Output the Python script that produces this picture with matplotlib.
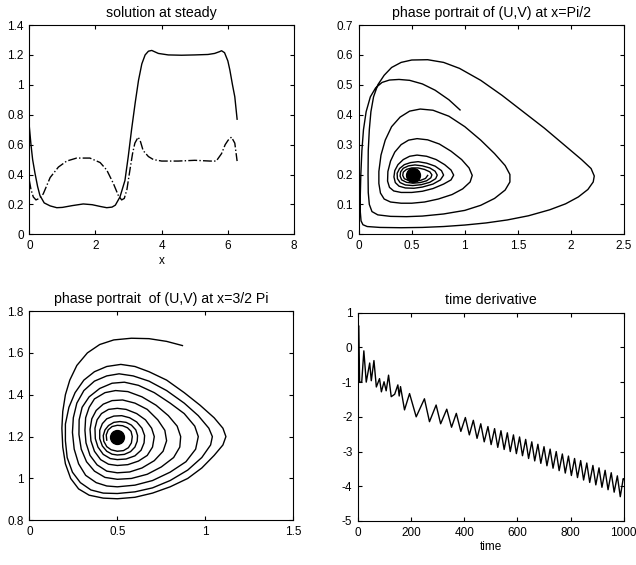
import matplotlib
matplotlib.use('Agg')
import matplotlib.pyplot as plt
from matplotlib.ticker import FormatStrFormatter

plt.rcParams['font.family'] = ['Liberation Sans', 'DejaVu Sans']
plt.rcParams['font.size'] = 8.5

# solution at steady
x_u = [0, 0.05, 0.1, 0.17, 0.25, 0.32, 0.45, 0.63, 0.83, 1.0, 1.3, 1.63, 1.9, 2.15, 2.34, 2.5, 2.6,
       2.74, 2.89, 2.99, 3.09, 3.2, 3.3, 3.4, 3.5, 3.6, 3.7, 3.9, 4.2, 4.6, 5.0, 5.4, 5.6, 5.75,
       5.81, 5.9, 6.0, 6.06, 6.14, 6.21, 6.28]
u_steady = [0.72, 0.6, 0.5, 0.41, 0.32, 0.26, 0.21, 0.19, 0.178, 0.18, 0.192, 0.203, 0.198, 0.186,
            0.178, 0.182, 0.195, 0.25, 0.36, 0.52, 0.7, 0.88, 1.03, 1.14, 1.2, 1.225, 1.23, 1.21,
            1.2, 1.198, 1.2, 1.203, 1.21, 1.222, 1.228, 1.215, 1.16, 1.1, 1.0, 0.92, 0.77]
x_v = [0, 0.05, 0.12, 0.2, 0.3, 0.42, 0.63, 0.88, 1.13, 1.43, 1.83, 2.14, 2.34, 2.54, 2.69, 2.79,
       2.87, 2.95, 3.04, 3.12, 3.19, 3.29, 3.36, 3.44, 3.6, 3.75, 4.0, 4.5, 5.0, 5.46, 5.65, 5.81,
       5.92, 6.01, 6.11, 6.21, 6.28]
v_steady = [0.36, 0.3, 0.25, 0.23, 0.24, 0.27, 0.38, 0.45, 0.49, 0.51, 0.51, 0.48, 0.43, 0.34, 0.26,
            0.23, 0.24, 0.3, 0.43, 0.54, 0.61, 0.65, 0.62, 0.56, 0.52, 0.5, 0.49, 0.49, 0.495, 0.49,
            0.49, 0.54, 0.6, 0.63, 0.65, 0.61, 0.49]

# phase portrait at x = pi/2
uv1 = [(0.955, 0.416), (0.85, 0.45), (0.72, 0.482), (0.6, 0.503), (0.48, 0.515), (0.38, 0.518),
       (0.29, 0.516), (0.22, 0.508), (0.16, 0.49), (0.11, 0.46), (0.07, 0.41), (0.045, 0.35),
       (0.03, 0.28), (0.02, 0.2), (0.015, 0.13), (0.015, 0.075), (0.022, 0.045), (0.04, 0.032),
       (0.08, 0.026), (0.2, 0.023), (0.4, 0.022), (0.6, 0.023), (0.8, 0.026), (1.0, 0.031),
       (1.2, 0.038), (1.4, 0.048), (1.6, 0.062), (1.8, 0.082), (1.95, 0.102), (2.07, 0.125),
       (2.16, 0.15), (2.21, 0.175), (2.22, 0.195), (2.19, 0.22), (2.1, 0.25), (1.95, 0.295),
       (1.75, 0.355), (1.55, 0.41), (1.35, 0.465), (1.15, 0.515), (0.95, 0.555), (0.8, 0.575),
       (0.65, 0.584), (0.5, 0.583), (0.4, 0.575), (0.31, 0.558), (0.24, 0.532), (0.18, 0.5),
       (0.14, 0.46), (0.115, 0.41), (0.1, 0.35), (0.09, 0.28), (0.088, 0.2), (0.09, 0.14),
       (0.1, 0.1), (0.125, 0.076), (0.18, 0.065), (0.3, 0.06), (0.45, 0.059), (0.6, 0.061),
       (0.8, 0.068), (1.0, 0.08), (1.15, 0.097), (1.28, 0.12), (1.38, 0.148), (1.425, 0.175),
       (1.425, 0.2), (1.38, 0.23), (1.28, 0.27), (1.15, 0.315), (1.0, 0.36), (0.85, 0.395),
       (0.7, 0.415), (0.58, 0.419), (0.48, 0.412), (0.39, 0.392), (0.31, 0.36), (0.25, 0.315),
       (0.21, 0.265), (0.19, 0.21), (0.19, 0.17), (0.205, 0.138), (0.24, 0.118), (0.3, 0.108),
       (0.4, 0.104), (0.5, 0.104), (0.62, 0.108), (0.75, 0.118), (0.88, 0.133), (0.98, 0.152),
       (1.05, 0.175), (1.07, 0.197), (1.04, 0.222), (0.97, 0.25), (0.87, 0.278), (0.76, 0.302),
       (0.65, 0.316), (0.55, 0.32), (0.47, 0.315), (0.4, 0.3), (0.34, 0.275), (0.3, 0.245),
       (0.275, 0.21), (0.272, 0.178), (0.29, 0.157), (0.33, 0.145), (0.4, 0.14), (0.5, 0.14),
       (0.6, 0.144), (0.7, 0.153), (0.8, 0.168), (0.87, 0.182), (0.895, 0.198), (0.87, 0.215),
       (0.81, 0.233), (0.73, 0.25), (0.64, 0.261), (0.55, 0.265), (0.48, 0.261), (0.42, 0.25),
       (0.37, 0.233), (0.34, 0.213), (0.332, 0.192), (0.345, 0.173), (0.38, 0.161), (0.44, 0.155),
       (0.52, 0.154), (0.6, 0.158), (0.7, 0.168), (0.77, 0.182), (0.8, 0.198), (0.78, 0.213),
       (0.72, 0.228), (0.64, 0.238), (0.56, 0.243), (0.49, 0.24), (0.43, 0.233), (0.385, 0.22),
       (0.362, 0.204), (0.365, 0.186), (0.39, 0.173), (0.44, 0.165), (0.51, 0.163), (0.59, 0.166),
       (0.67, 0.174), (0.725, 0.186), (0.74, 0.198), (0.72, 0.211), (0.67, 0.222), (0.6, 0.229),
       (0.53, 0.232), (0.47, 0.229), (0.42, 0.221), (0.395, 0.209), (0.39, 0.195), (0.405, 0.182),
       (0.45, 0.174), (0.51, 0.171), (0.58, 0.173), (0.64, 0.179), (0.68, 0.189), (0.69, 0.199),
       (0.67, 0.209), (0.62, 0.217), (0.56, 0.222), (0.5, 0.222), (0.45, 0.217), (0.42, 0.208),
       (0.415, 0.197), (0.43, 0.186), (0.47, 0.18), (0.52, 0.178), (0.58, 0.18), (0.63, 0.187),
       (0.65, 0.197)]
focus1 = (0.51, 0.198)

# phase portrait at x = 3/2 pi
uv2 = [(0.87, 1.635), (0.78, 1.655), (0.68, 1.668), (0.58, 1.67), (0.48, 1.662), (0.4, 1.64),
       (0.33, 1.6), (0.27, 1.54), (0.23, 1.47), (0.205, 1.4), (0.19, 1.32), (0.185, 1.24),
       (0.19, 1.15), (0.205, 1.07), (0.235, 1.0), (0.28, 0.95), (0.34, 0.92), (0.42, 0.906),
       (0.5, 0.903), (0.6, 0.91), (0.7, 0.93), (0.8, 0.96), (0.9, 1.0), (0.98, 1.05), (1.05, 1.11),
       (1.1, 1.16), (1.117, 1.2), (1.1, 1.24), (1.05, 1.29), (0.97, 1.35), (0.88, 1.41),
       (0.78, 1.47), (0.68, 1.51), (0.6, 1.535), (0.52, 1.545), (0.44, 1.535), (0.37, 1.51),
       (0.31, 1.47), (0.26, 1.41), (0.225, 1.34), (0.205, 1.26), (0.205, 1.18), (0.215, 1.1),
       (0.245, 1.03), (0.29, 0.98), (0.35, 0.945), (0.42, 0.93), (0.5, 0.928), (0.6, 0.936),
       (0.7, 0.955), (0.8, 0.99), (0.9, 1.04), (0.98, 1.1), (1.03, 1.16), (1.04, 1.2),
       (1.02, 1.24), (0.96, 1.3), (0.88, 1.36), (0.78, 1.42), (0.68, 1.465), (0.59, 1.49),
       (0.51, 1.5), (0.44, 1.49), (0.37, 1.465), (0.31, 1.42), (0.27, 1.36), (0.25, 1.29),
       (0.245, 1.22), (0.255, 1.14), (0.28, 1.07), (0.32, 1.015), (0.38, 0.98), (0.44, 0.964),
       (0.5, 0.96), (0.6, 0.968), (0.7, 0.99), (0.8, 1.03), (0.89, 1.08), (0.945, 1.14),
       (0.96, 1.2), (0.94, 1.25), (0.88, 1.31), (0.8, 1.36), (0.71, 1.41), (0.62, 1.445),
       (0.54, 1.46), (0.47, 1.455), (0.4, 1.43), (0.34, 1.39), (0.3, 1.34), (0.283, 1.28),
       (0.282, 1.21), (0.295, 1.14), (0.325, 1.08), (0.37, 1.035), (0.43, 1.005), (0.5, 0.996),
       (0.58, 1.0), (0.67, 1.02), (0.75, 1.055), (0.82, 1.1), (0.855, 1.15), (0.86, 1.2),
       (0.84, 1.25), (0.79, 1.3), (0.72, 1.35), (0.64, 1.39), (0.56, 1.415), (0.49, 1.42),
       (0.43, 1.41), (0.37, 1.38), (0.34, 1.34), (0.32, 1.29), (0.316, 1.23), (0.322, 1.17),
       (0.345, 1.11), (0.385, 1.065), (0.44, 1.035), (0.5, 1.027), (0.57, 1.031), (0.64, 1.05),
       (0.71, 1.085), (0.76, 1.13), (0.78, 1.18), (0.77, 1.23), (0.73, 1.28), (0.67, 1.33),
       (0.6, 1.36), (0.53, 1.375), (0.47, 1.372), (0.42, 1.355), (0.38, 1.325), (0.355, 1.285),
       (0.345, 1.235), (0.35, 1.18), (0.37, 1.13), (0.405, 1.09), (0.45, 1.068), (0.5, 1.062),
       (0.56, 1.066), (0.62, 1.083), (0.67, 1.11), (0.7, 1.15), (0.71, 1.2), (0.695, 1.24),
       (0.66, 1.28), (0.61, 1.31), (0.55, 1.33), (0.5, 1.335), (0.45, 1.33), (0.41, 1.31),
       (0.385, 1.28), (0.373, 1.24), (0.375, 1.19), (0.39, 1.15), (0.42, 1.115), (0.46, 1.095),
       (0.5, 1.09), (0.55, 1.093), (0.6, 1.108), (0.635, 1.135), (0.652, 1.17), (0.655, 1.205),
       (0.64, 1.24), (0.61, 1.27), (0.57, 1.29), (0.525, 1.3), (0.48, 1.298), (0.44, 1.285),
       (0.415, 1.262), (0.4, 1.23), (0.4, 1.19), (0.415, 1.155), (0.44, 1.13), (0.47, 1.116),
       (0.5, 1.112), (0.54, 1.115), (0.575, 1.128), (0.6, 1.15), (0.613, 1.178), (0.615, 1.205),
       (0.605, 1.232), (0.58, 1.255), (0.55, 1.268), (0.515, 1.272), (0.48, 1.268), (0.45, 1.253),
       (0.43, 1.232), (0.42, 1.205), (0.423, 1.178), (0.44, 1.152), (0.465, 1.137), (0.5, 1.13),
       (0.535, 1.133), (0.563, 1.147), (0.58, 1.17), (0.585, 1.2), (0.578, 1.225), (0.558, 1.242),
       (0.53, 1.252), (0.5, 1.254), (0.47, 1.248), (0.448, 1.232), (0.437, 1.208), (0.44, 1.183)]
focus2 = (0.5, 1.2)

# time derivative
t_der = [0, 3, 6, 14, 22, 31, 44, 50, 60, 69, 81, 88, 98, 106, 115, 125, 138, 150, 155, 160, 175,
         194, 219, 250, 269, 294, 311, 334, 352, 370, 387, 404, 419, 434, 448, 462, 475, 489, 501,
         514, 526, 538, 550, 562, 573, 585, 596, 608, 619, 631, 642, 654, 665, 677, 688, 700, 711,
         723, 734, 746, 757, 769, 780, 792, 803, 815, 826, 838, 849, 861, 872, 884, 895, 907, 918,
         930, 941, 953, 964, 976, 987, 998, 1000]
d_der = [0.6, 0.62, -1.0, -1.0, -0.1, -1.0, -0.45, -0.96, -0.38, -1.14, -0.9, -1.28, -0.99, -1.25,
         -0.8, -1.42, -1.35, -1.08, -1.4, -1.13, -1.8, -1.33, -2.0, -1.48, -2.14, -1.66, -2.2,
         -1.78, -2.3, -1.9, -2.42, -2.02, -2.52, -2.1, -2.62, -2.2, -2.72, -2.28, -2.8, -2.34,
         -2.88, -2.4, -2.94, -2.46, -3.0, -2.52, -3.06, -2.58, -3.12, -2.65, -3.2, -2.72, -3.27,
         -2.79, -3.34, -2.86, -3.41, -2.93, -3.48, -3.0, -3.55, -3.07, -3.62, -3.13, -3.69, -3.2,
         -3.75, -3.26, -3.82, -3.33, -3.89, -3.4, -3.96, -3.47, -4.03, -3.54, -4.1, -3.61, -4.17,
         -3.7, -4.3, -3.78, -3.8]

fig = plt.figure(figsize=(6.36, 5.65), dpi=100)
ax1 = fig.add_axes([0.0461, 0.5853, 0.4162, 0.3704])
ax2 = fig.add_axes([0.564, 0.5853, 0.4171, 0.3704])
ax3 = fig.add_axes([0.0461, 0.0791, 0.4151, 0.3704])
ax4 = fig.add_axes([0.5629, 0.0779, 0.4178, 0.3687])

lw = 1.0
ax1.plot(x_u, u_steady, color='k', linewidth=lw)
ax1.plot(x_v, v_steady, color='k', linewidth=lw, linestyle='-.')
ax1.set_xlim(0, 8)
ax1.set_ylim(0, 1.4)
ax1.set_xticks([0, 2, 4, 6, 8])
ax1.set_yticks([0, 0.2, 0.4, 0.6, 0.8, 1, 1.2, 1.4])
ax1.set_title('solution at steady')
ax1.set_xlabel('x', labelpad=2)

ax2.plot([p[0] for p in uv1], [p[1] for p in uv1], color='k', linewidth=lw)
ax2.plot(focus1[0], focus1[1], 'o', color='k', markersize=10)
ax2.set_xlim(0, 2.5)
ax2.set_ylim(0, 0.7)
ax2.set_xticks([0, 0.5, 1, 1.5, 2, 2.5])
ax2.set_yticks([0, 0.1, 0.2, 0.3, 0.4, 0.5, 0.6, 0.7])
ax2.set_title('phase portrait of (U,V) at x=Pi/2')

ax3.plot([p[0] for p in uv2], [p[1] for p in uv2], color='k', linewidth=lw)
ax3.plot(focus2[0], focus2[1], 'o', color='k', markersize=10)
ax3.set_xlim(0, 1.5)
ax3.set_ylim(0.8, 1.8)
ax3.set_xticks([0, 0.5, 1, 1.5])
ax3.set_yticks([0.8, 1, 1.2, 1.4, 1.6, 1.8])
ax3.set_title('phase portrait  of (U,V) at x=3/2 Pi')

ax4.plot(t_der, d_der, color='k', linewidth=lw)
ax4.set_xlim(0, 1000)
ax4.set_ylim(-5, 1)
ax4.set_xticks([0, 200, 400, 600, 800, 1000])
ax4.set_yticks([-5, -4, -3, -2, -1, 0, 1])
ax4.set_title('time derivative')
ax4.set_xlabel('time', labelpad=2)

for ax in [ax1, ax2, ax3, ax4]:
    ax.tick_params(direction='in', top=True, right=True, length=3, width=0.8, pad=4)
    ax.xaxis.set_major_formatter(FormatStrFormatter('%g'))
    ax.yaxis.set_major_formatter(FormatStrFormatter('%g'))
    for s in ax.spines.values():
        s.set_linewidth(0.8)

fig.savefig('out.png', dpi=100)
